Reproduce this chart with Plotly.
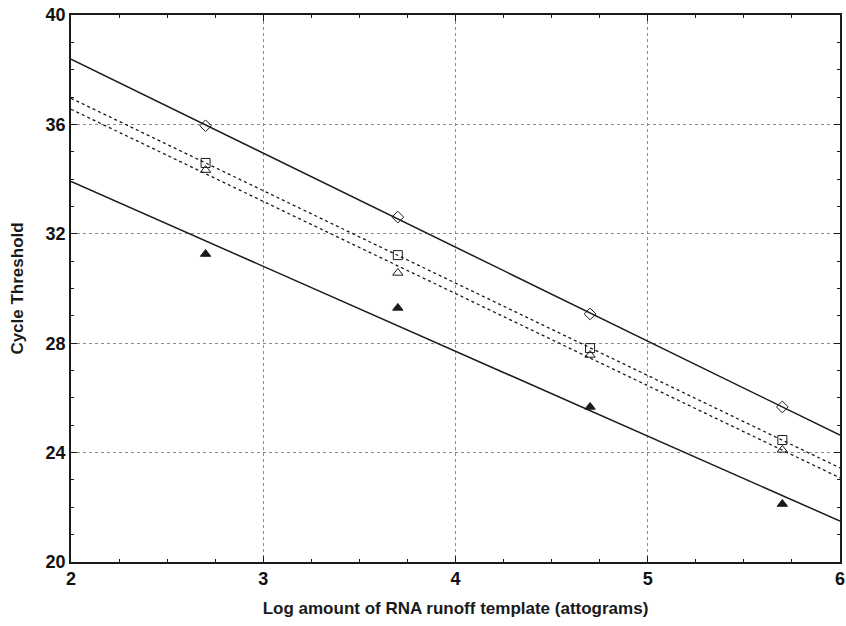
import numpy as np
import plotly.graph_objects as go

log_amount = [2.7, 3.7, 4.7, 5.7]
ct_diamond = [35.95, 32.61, 29.07, 25.67]
ct_square = [34.59, 31.22, 27.82, 24.46]
ct_triangle_open = [34.33, 30.57, 27.57, 24.10]
ct_triangle_filled = [31.26, 29.29, 25.67, 22.12]

x_range = [2, 6]
y_range = [20, 40]
x_ticks = [2, 3, 4, 5, 6]
y_ticks = [20, 24, 28, 32, 36, 40]

series = [
    (ct_diamond, "diamond-open", 9, "solid"),
    (ct_square, "square-open", 9, "dot"),
    (ct_triangle_open, "triangle-up-open", 9, "dot"),
    (ct_triangle_filled, "triangle-up", 9, "solid"),
]

fig = go.Figure()
xs = np.array(log_amount)
line_x = np.array(x_range, dtype=float)
for ys, sym, size, dash in series:
    slope, icpt = np.polyfit(xs, np.array(ys), 1)
    fig.add_trace(go.Scatter(
        x=line_x, y=slope * line_x + icpt, mode="lines",
        line=dict(color="#1a1a1a", width=1.5 if dash == "solid" else 1.3, dash=dash),
        showlegend=False, hoverinfo="skip"))
    fig.add_trace(go.Scatter(
        x=log_amount, y=ys, mode="markers",
        marker=dict(symbol=sym, size=size, color="#1a1a1a",
                    line=dict(color="#1a1a1a", width=1)),
        showlegend=False))

fam = "Liberation Sans, Arial, sans-serif"
fig.update_layout(
    width=846, height=626,
    margin=dict(l=71, r=6, t=15, b=64),
    paper_bgcolor="white", plot_bgcolor="white",
    font=dict(family=fam, size=18, color="#1a1a1a"),
)
common = dict(
    ticks="inside", ticklen=6, tickcolor="#1a1a1a", automargin=False,
    showline=True, linecolor="#1a1a1a", linewidth=1.5, mirror="allticks",
    showgrid=True, gridcolor="#8a8a8a", griddash="dot", gridwidth=1,
    zeroline=False, tickfont=dict(size=18, family=fam, color="#111111", weight="bold"),
)
fig.update_xaxes(
    range=x_range, tickvals=x_ticks, ticktext=[f"<b>{v}</b>" for v in x_ticks],
    minor=dict(dtick=0.25, tick0=2, ticks="inside", ticklen=3, tickcolor="#1a1a1a", showgrid=False),
    title=dict(text="<b>Log amount of RNA runoff template (attograms)</b>",
               font=dict(size=17), standoff=14),
    **common,
)
fig.update_yaxes(
    range=y_range, tickvals=y_ticks, ticktext=[f"<b>{v}</b>" for v in y_ticks],
    minor=dict(dtick=1, tick0=20, ticks="inside", ticklen=3, tickcolor="#1a1a1a", showgrid=False),
    title=dict(text="<b>Cycle Threshold</b>", font=dict(size=17), standoff=18),
    **common,
)
fig.write_html("out.html")
